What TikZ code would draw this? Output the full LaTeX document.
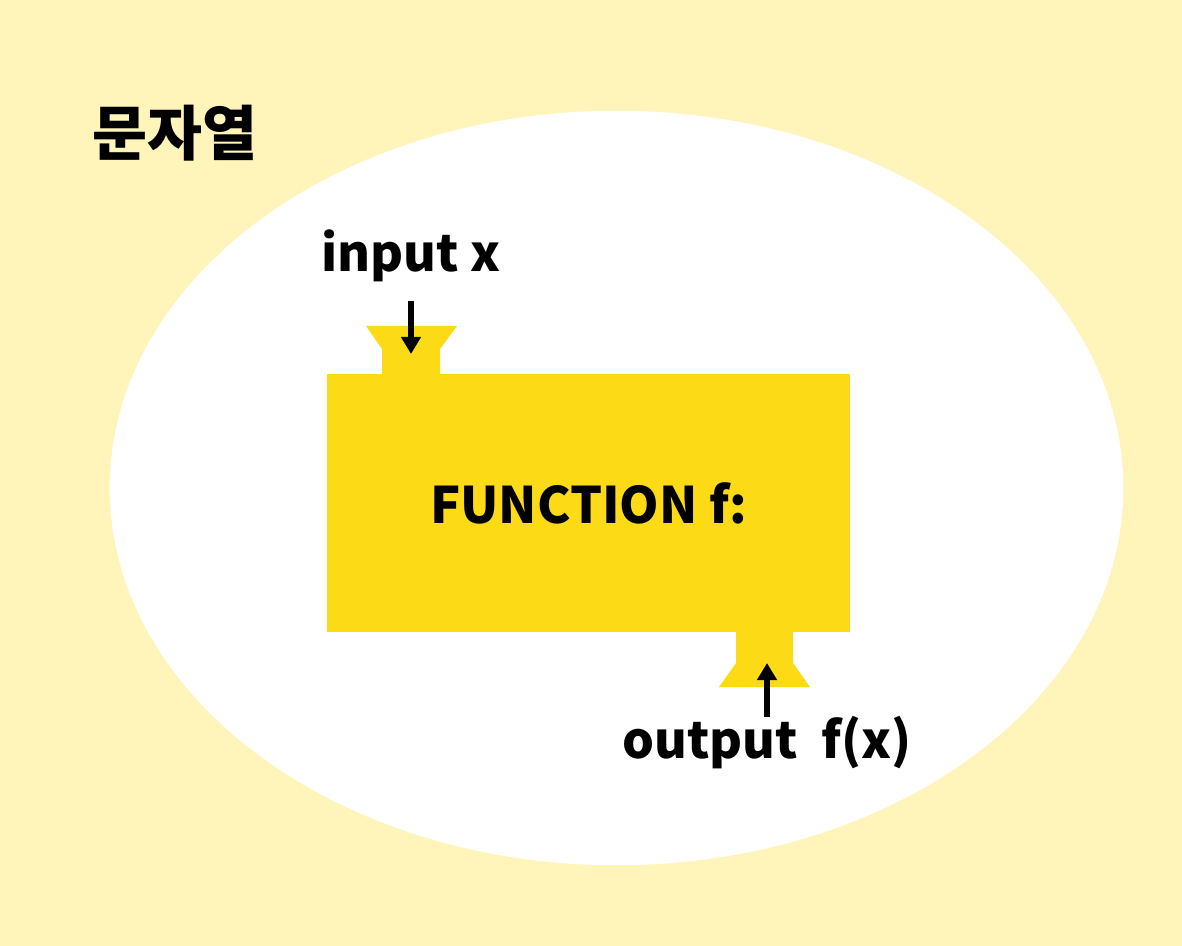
\documentclass[tikz,border=0pt]{standalone}
\usepackage{fontspec}
\setmainfont{Noto Sans CJK KR}
\usetikzlibrary{arrows.meta, positioning}
\definecolor{bgyellow}{RGB}{255,244,186}
\definecolor{boxyellow}{RGB}{253,218,22}

\begin{document}
\begin{tikzpicture}[
  x = 0.01cm, y = -0.01cm,
  lbl/.style   = {font=\fontsize{14.3}{17}\selectfont\bfseries, inner sep=0pt},
  title/.style = {font=\fontsize{17}{20}\selectfont\bfseries, inner sep=0pt},
  func/.style  = {lbl, fill=boxyellow, minimum width=5.23cm,
                  minimum height=2.58cm},
  funnel/.style = {fill=boxyellow},
  arr/.style   = {-{Triangle[length=0.17cm, width=0.19cm]}, line width=0.055cm},
]
  \useasboundingbox (0,0) rectangle (1182,946);
  \fill[bgyellow] (0,0) rectangle (1182,946);
  \fill[white] (616.5,488) ellipse [x radius=5.065cm, y radius=3.77cm];

  \node[title] (strtitle) at (175,133) {문자열};

  % function box with its two funnels
  \node[func] (fn) at (588.5,503) {FUNCTION f:};
  \fill[funnel] (366,326) -- (457,326) -- (440,349) -- (440,376)
                -- (382,376) -- (382,349) -- cycle;
  \fill[funnel] (736,630) -- (793,630) -- (793,663) -- (810,687)
                -- (719,687) -- (736,663) -- cycle;

  \node[lbl, anchor=base] (inp) at (411,272) {input x};
  \coordinate (inTail) at (411,301);
  \coordinate (inTip)  at (411,354);
  \draw[arr] (inTail) -- (inTip);

  \node[lbl, anchor=base] (outp) at (767,758) {output~~f(x)};
  \coordinate (outTail) at (767,717);
  \coordinate (outTip)  at (767,663);
  \draw[arr] (outTail) -- (outTip);
\end{tikzpicture}
\end{document}
